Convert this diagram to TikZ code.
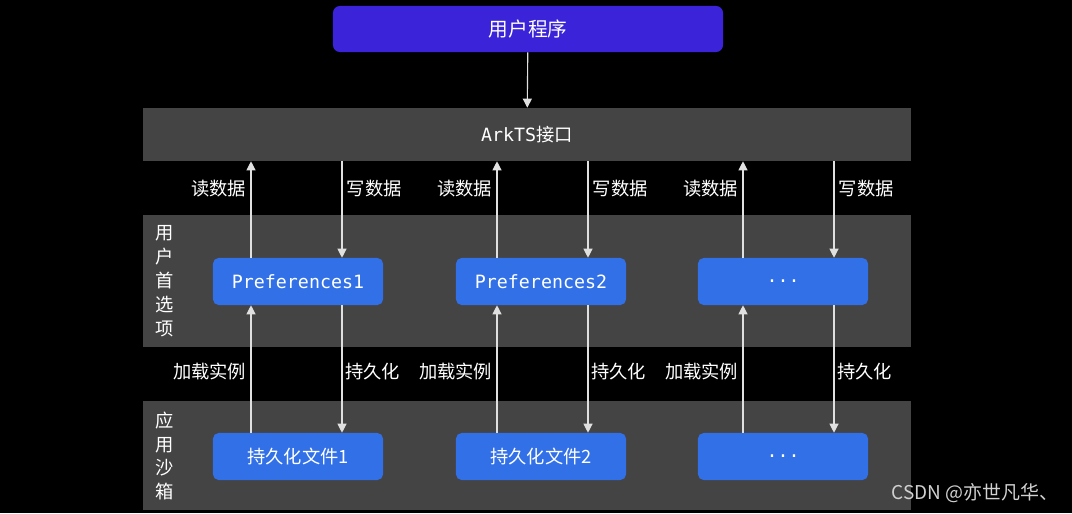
\documentclass[tikz,border=0pt]{standalone}
\usepackage{fontspec}
\setmainfont{Noto Sans CJK SC}
\setmonofont{DejaVu Sans Mono}
\usetikzlibrary{arrows.meta}
\definecolor{bandgray}{HTML}{444444}
\definecolor{appblue}{HTML}{3A23D8}
\definecolor{prefblue}{HTML}{3270E8}
\newcommand\mdots{\raisebox{-1pt}[0pt][0pt]{\ttfamily...}}
\begin{document}
\begin{tikzpicture}[x=0.025cm,y=-0.025cm,>={Triangle[width=6.5pt,length=6.5pt]},
font=\fontsize{13}{17}\selectfont]
\tikzset{band/.style={fill=bandgray,minimum width=19.2cm,inner sep=0pt,text=white},
pbox/.style={fill=prefblue,rounded corners=4pt,minimum width=4.25cm,minimum height=1.175cm,inner sep=0pt,text=white},
flow/.style={draw=white!88!black,line width=0.8pt,->},
lbl/.style={text=white,inner sep=1pt}
}
\fill[black] (0,0) rectangle (1072,513);
\node[fill=appblue,rounded corners=5pt,minimum width=9.75cm,minimum height=1.15cm,text=white,
font=\fontsize{14}{17}\selectfont] (app) at (528,29) {用户程序};
\node[band,minimum height=1.325cm] (ark) at (527,134.5) {{\ttfamily ArkTS}接口};
\node[band,minimum height=3.3cm] (pref) at (527,281) {};
\node[band,minimum height=2.725cm] (sand) at (527,455.5) {};
\node[text=white,align=center] (preft) at (165,281) {用\\户\\首\\选\\项};
\node[text=white,align=center] (sandt) at (165,456) {应\\用\\沙\\箱};
\draw[flow] (app) -- (ark);
\foreach \i/\x/\a/\b/\t/\f in {1/298/-47/44/Preferences1/持久化文件1,2/541/-44/47/Preferences2/持久化文件2,3/783/-40/51/\mdots/\mdots}{
\node[pbox,font=\fontsize{13}{17}\ttfamily] (p\i) at (\x,281.5) {\t};
\node[pbox] (f\i) at (\x,456.5) {\f};
\coordinate (r\i) at ([xshift=\a*0.025cm]p\i.north);
\coordinate (w\i) at ([xshift=\b*0.025cm]p\i.north);
\coordinate (rb\i) at ([xshift=\a*0.025cm]p\i.south);
\coordinate (wb\i) at ([xshift=\b*0.025cm]p\i.south);
\draw[flow] (r\i) -- (r\i |- ark.south) node[lbl,pos=0.72,left=2pt]{读数据};
\draw[flow] (w\i |- ark.south) -- (w\i) node[lbl,pos=0.28,right=2pt]{写数据};
\draw[flow] (rb\i |- f\i.north) -- (rb\i) node[lbl,pos=0.48,left=2pt]{加载实例};
\draw[flow] (wb\i) -- (wb\i |- f\i.north) node[lbl,pos=0.52,right=1pt]{持久化};
}
\node[text=white!82!black,inner sep=0pt,font=\fontsize{13.5}{17}\selectfont] (mark) at (975,493) {CSDN @亦世凡华、};
\end{tikzpicture}
\end{document}
